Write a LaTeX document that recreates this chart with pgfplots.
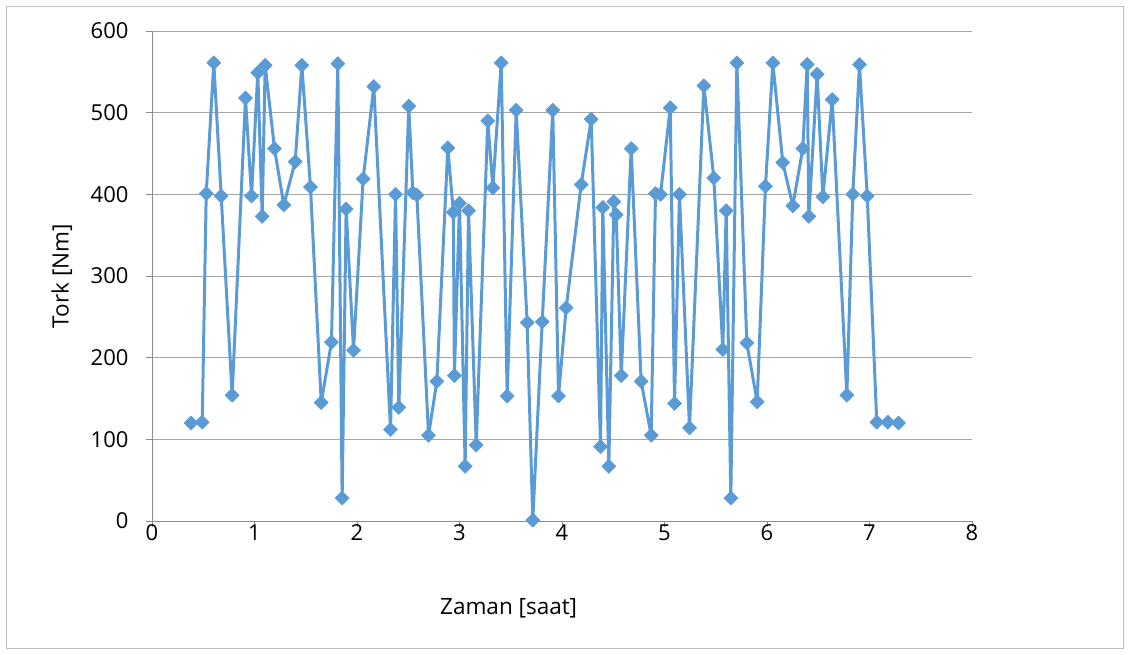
\documentclass[border=0pt]{standalone}
\usepackage{pgfplots}
\pgfplotsset{compat=1.18}
\usepackage{fontspec}
\setmainfont{Open Sans}
\definecolor{serblue}{HTML}{5B9BD5}
\definecolor{gridgray}{HTML}{A6A6A6}
\definecolor{axgray}{HTML}{8C8C8C}
\definecolor{bordergray}{HTML}{BFBFBF}
\pgfplotstableread{
x y
0.382 120
0.490 121
0.529 401
0.603 561
0.675 398
0.782 154
0.912 518
0.971 398
1.032 549
1.075 373
1.104 558
1.195 456
1.286 387
1.397 440
1.462 558
1.546 409
1.651 145
1.751 219
1.813 560
1.855 28
1.894 382
1.966 209
2.060 419
2.164 532
2.327 112
2.376 400
2.408 139
2.505 508
2.545 402
2.584 399
2.698 105
2.779 171
2.886 457
2.940 378
2.950 178
3.000 389
3.055 67
3.088 380
3.163 93
3.276 490
3.325 408
3.407 561
3.465 153
3.553 503
3.660 243
3.715 1
3.807 244
3.910 503
3.966 153
4.041 261
4.187 412
4.285 492
4.376 91
4.398 384
4.457 67
4.506 391
4.529 375
4.578 178
4.675 456
4.772 171
4.870 105
4.912 401
4.961 400
5.056 506
5.098 144
5.146 400
5.244 114
5.384 533
5.481 420
5.569 210
5.602 380
5.647 28
5.706 561
5.803 218
5.904 146
5.985 410
6.057 561
6.154 439
6.252 386
6.349 456
6.392 559
6.408 373
6.489 547
6.545 397
6.636 516
6.779 154
6.837 400
6.902 559
6.978 398
7.071 121
7.179 121
7.283 120
}\torkdata
\begin{document}
\begin{tikzpicture}
\path[use as bounding box] (-152bp,-134bp) rectangle (978bp,521bp);
\draw[bordergray, line width=1bp] (-145bp,-127bp) rectangle (971bp,514bp);
\begin{axis}[
  at={(0,0)}, anchor=south west,
  scale only axis,
  width=820bp, height=490bp,
  xmin=0, xmax=8, ymin=0, ymax=600,
  xtick={0,1,...,8}, ytick={0,100,...,600},
  axis x line*=bottom, axis y line*=left,
  axis line style={axgray, line width=0.8bp, -},
  ymajorgrids, grid style={gridgray, line width=0.8bp},
  tick style={axgray, line width=0.8bp},
  tick align=outside, major tick length=6bp,
  /pgf/number format/assume math mode=true,
  tick label style={font=\fontsize{22bp}{26bp}\selectfont, color=black},
  yticklabel style={xshift=-14bp},
  xticklabel style={yshift=6bp},
  xlabel={Zaman [saat]}, ylabel={Tork [Nm]},
  label style={font=\fontsize{22.5bp}{26bp}\selectfont},
  xlabel style={at={(axis description cs:0.435,-0.1776)}, anchor=center},
  ylabel style={at={(axis description cs:-0.1098,0.5)}, anchor=center},
  clip=false,
]
\addplot[serblue, line width=3bp, line join=round, line cap=round, mark=square*, mark size=5bp,
  mark options={rotate=45, fill=serblue, draw=serblue, line width=0.5bp}] table[x=x,y=y] {\torkdata};
\end{axis}
\end{tikzpicture}
\end{document}
